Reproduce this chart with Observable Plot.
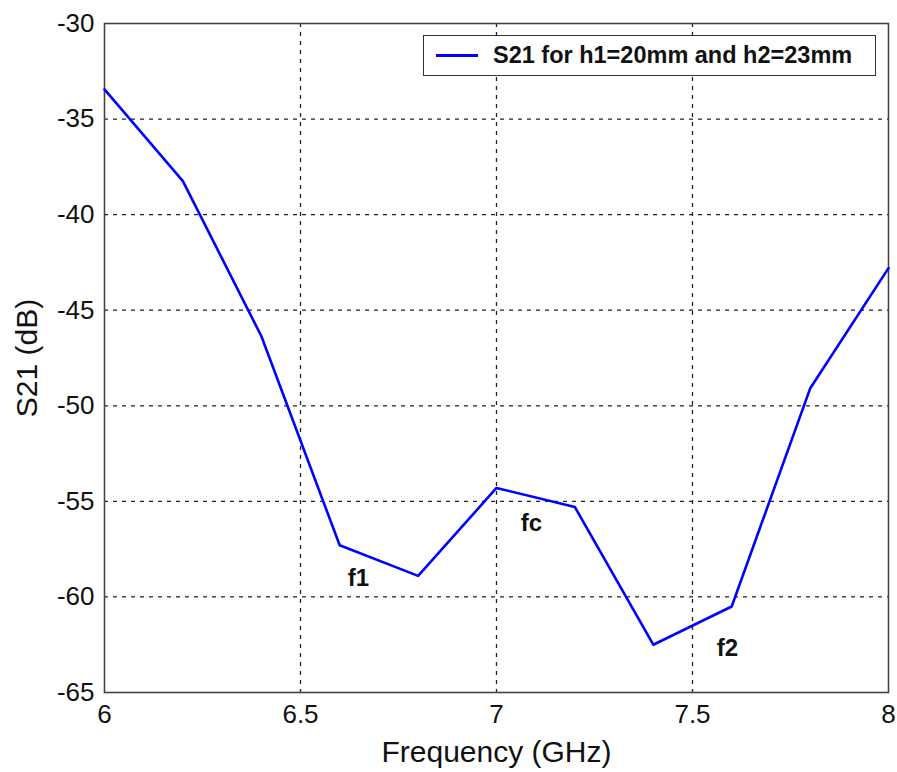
<!DOCTYPE html>
<html>
<head>
<meta charset="utf-8">
<script src="https://cdn.jsdelivr.net/npm/d3@7"></script>
<script src="https://cdn.jsdelivr.net/npm/@observablehq/plot@0.6"></script>
<style>
  html, body { margin: 0; padding: 0; background: #fff; }
  #wrap { position: relative; width: 897px; height: 772px; }
  #legend {
    position: absolute; left: 423px; top: 35px; width: 453px; height: 41px;
    border: 1.5px solid #333; background: #fff; box-sizing: border-box;
    font-family: "Liberation Sans", Arial, sans-serif; font-weight: bold; font-size: 23.5px;
    display: flex; align-items: center; color: #111;
  }
  #legend .sw { width: 42px; height: 0; border-top: 3px solid #0000ff; margin-left: 12px; margin-right: 15px; }
</style>
</head>
<body>
<div id="wrap">
  <div id="chart"></div>
  <div id="legend"><span class="sw"></span><span id="legtext"></span></div>
</div>
<script>
const frequency = [6.0, 6.2, 6.4, 6.6, 6.8, 7.0, 7.2, 7.4, 7.6, 7.8, 8.0];
const s21 = [-33.45, -38.25, -46.35, -57.3, -58.9, -54.3, -55.3, -62.5, -60.5, -49.1, -42.8];
const xTicks = [6, 6.5, 7, 7.5, 8];
const yTicks = [-30, -35, -40, -45, -50, -55, -60, -65];
const seriesName = "S21 for h1=20mm and h2=23mm";
const annoText = ["f1", "fc", "f2"];
const annoX = [6.648, 7.089, 7.589];
const annoY = [-59.04, -56.16, -62.7];

const data = frequency.map((f, i) => ({f, v: s21[i]}));
const annos = annoText.map((t, i) => ({t, x: annoX[i], y: annoY[i]}));

document.getElementById("legtext").textContent = seriesName;

const font = "'Liberation Sans', Arial, sans-serif";

const chart = Plot.plot({
  width: 897,
  height: 772,
  marginLeft: 104,
  marginRight: 9,
  marginTop: 23,
  marginBottom: 80,
  style: {fontFamily: font, background: "#fff", color: "#111"},
  x: {domain: [6, 8], ticks: xTicks},
  y: {domain: [-65, -30], ticks: yTicks},
  marks: [
    Plot.gridX(xTicks.slice(1, -1), {stroke: "#222", strokeOpacity: 1, strokeDasharray: "4,5", strokeWidth: 1.3}),
    Plot.gridY(yTicks.slice(1, -1), {stroke: "#222", strokeOpacity: 1, strokeDasharray: "4,5", strokeWidth: 1.3}),
    Plot.frame({stroke: "#444", strokeWidth: 1.6}),
    Plot.axisX(xTicks, {tickSize: 0, tickPadding: 12, fontSize: 26, label: null, tickFormat: d => String(d)}),
    Plot.axisY(yTicks, {tickSize: 0, tickPadding: 10, fontSize: 26, label: null, tickFormat: d => String(d)}),
    Plot.text(["Frequency (GHz)"], {frameAnchor: "bottom", dy: 69, fontSize: 30, lineAnchor: "bottom"}),
    Plot.text(["S21 (dB)"], {frameAnchor: "left", textAnchor: "middle", dx: -77, rotate: -90, fontSize: 30}),
    Plot.line(data, {x: "f", y: "v", stroke: "#0000ff", strokeWidth: 2.6}),
    Plot.text(annos, {x: "x", y: "y", text: "t", fontSize: 24, fontWeight: "bold", fill: "#111"})
  ]
});
document.getElementById("chart").appendChild(chart);
</script>
</body>
</html>
